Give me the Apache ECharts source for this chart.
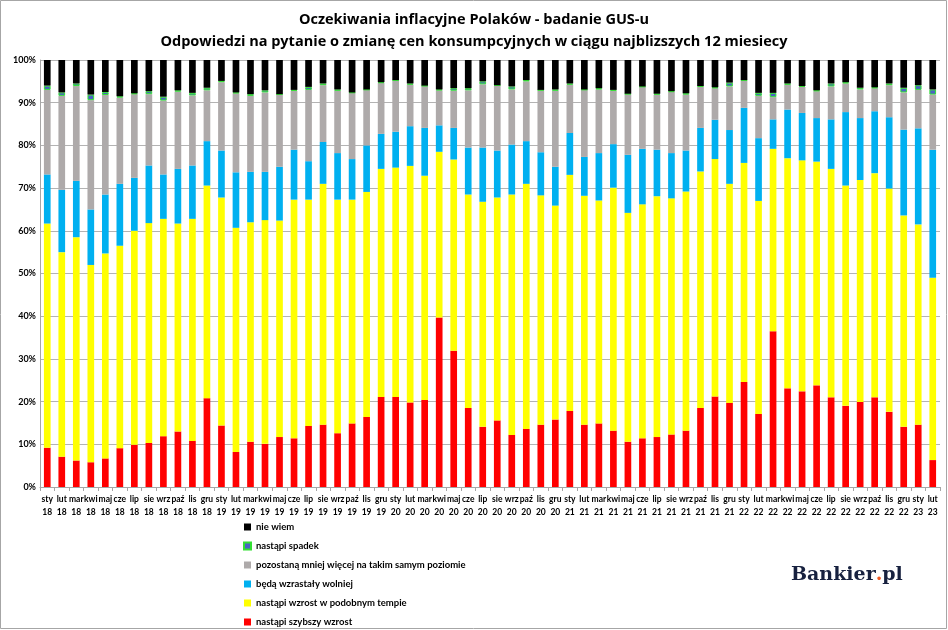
<!DOCTYPE html>
<html><head><meta charset="utf-8">
<script src="https://cdn.jsdelivr.net/npm/echarts@6/dist/echarts.min.js"></script>
<style>html,body{margin:0;padding:0;background:#fff}#c{width:948px;height:630px}</style>
</head><body><div id="c"></div>
<script>
const months = ['sty','lut','mar','kwi','maj','cze','lip','sie','wrz','paź','lis','gru'];
const categories = [];
for (const y of ['18','19','20','21','22']) for (const m of months) categories.push(m + '\n' + y);
categories.push('sty\n23', 'lut\n23');

const szybszy = [9.2,7.1,6.2,5.8,6.7,9.1,9.9,10.3,11.9,13.0,10.8,20.8,14.4,8.2,10.6,10.1,11.7,11.4,14.3,14.6,12.6,14.9,16.4,21.1,21.1,19.8,20.4,39.7,31.9,18.5,14.1,15.6,12.2,13.6,14.6,15.8,17.8,14.6,14.9,13.2,10.6,11.4,11.7,12.3,13.2,18.5,21.2,19.7,24.6,17.1,36.5,23.1,22.4,23.8,21.0,19.0,19.9,21.0,17.6,14.1,14.6,6.3];
const podobny = [52.5,47.9,52.3,46.2,48.0,47.4,50.1,51.5,50.9,48.7,52.0,49.8,53.4,52.5,51.4,52.4,50.7,55.9,53.0,56.4,54.7,52.4,52.7,53.4,53.7,55.4,52.5,38.8,44.8,50.0,52.7,52.2,56.3,57.4,53.7,50.1,55.3,53.6,52.2,56.9,53.6,54.8,56.4,55.3,56.0,55.4,55.6,51.3,51.3,49.9,42.7,53.9,54.1,52.4,53.5,51.6,52.0,52.5,52.3,49.5,46.9,42.7];
const wolniej = [11.5,14.6,13.2,13.0,13.8,14.5,12.4,13.5,10.4,12.8,12.5,10.4,11.0,13.0,11.8,11.3,12.6,11.7,9.0,9.8,10.9,9.5,10.9,8.2,8.4,9.3,11.2,6.2,7.4,11.0,12.7,11.0,11.7,10.0,10.1,9.1,9.8,9.1,11.1,10.2,13.6,13.0,10.9,10.6,9.6,10.2,9.2,12.6,12.9,14.7,6.9,11.4,11.1,10.2,11.6,17.2,14.5,14.5,16.7,20.1,22.5,30.0];
const bezZmian = [19.8,22.0,22.2,25.6,23.3,20.2,19.6,16.7,17.3,18.1,16.4,11.9,16.0,18.5,17.8,18.6,16.9,13.8,16.7,13.3,14.6,15.5,13.0,11.9,12.0,9.7,9.8,8.2,8.7,13.4,14.8,15.2,12.9,14.0,14.5,17.8,11.3,15.7,14.9,12.5,14.2,14.5,12.9,14.3,13.1,9.6,7.4,10.2,6.4,9.9,5.2,5.8,6.1,6.3,7.7,6.7,6.7,5.4,7.5,8.7,9.0,12.9];
const spadek = [1.0,0.8,0.6,1.3,0.7,0.3,0.2,0.7,0.9,0.3,0.6,0.6,0.3,0.2,0.4,0.5,0.1,0.2,0.7,0.4,0.3,0.1,0.1,0.2,0.1,0.3,0.1,0.2,0.6,0.5,0.7,0.1,0.7,0.3,0.1,0.3,0.3,0.1,0.3,0.2,0.1,0.1,0.2,0.2,0.3,0.2,0.2,0.9,0.1,0.7,1.0,0.3,0.2,0.2,0.7,0.3,0.4,0.2,0.4,1.1,1.1,1.2];
const nieWiem = [6.0,7.6,5.5,8.1,7.5,8.5,7.8,7.3,8.6,7.1,7.7,6.5,4.9,7.6,8.0,7.1,8.0,7.0,6.3,5.5,6.9,7.6,6.9,5.2,4.7,5.5,6.0,6.9,6.6,6.6,5.0,5.9,6.2,4.7,7.0,6.9,5.5,6.9,6.6,7.0,7.9,6.2,7.9,7.3,7.8,6.1,6.4,5.3,4.7,7.7,7.7,5.5,6.1,7.1,5.5,5.2,6.5,6.4,5.5,6.5,5.9,6.9];
const yTicks = [0,10,20,30,40,50,60,70,80,90,100];

const names = ['nastąpi szybszy wzrost','nastąpi wzrost w podobnym tempie','będą wzrastały wolniej','pozostaną mniej więcej na takim samym poziomie','nastąpi spadek','nie wiem'];
const datas = [szybszy, podobny, wolniej, bezZmian, spadek, nieWiem];
const styles = [
  {color:'#ff0000'},
  {color:'#ffff00'},
  {color:'#00b0f0'},
  {color:'#aeaaaa'},
  {color:'#4a62c4', borderColor:'#33e033', borderWidth:1},
  {color:'#000000'}
];
const series = names.map((n,i)=>({
  name:n, type:'bar', stack:'all', data:datas[i], barWidth:'46%',
  itemStyle:styles[i], emphasis:{disabled:true}, animation:false
}));

const chart = echarts.init(document.getElementById('c'));
chart.setOption({
  animation:false,
  backgroundColor:'#fff',
  title:[
    {text:'Oczekiwania inflacyjne Polaków - badanie GUS-u', left:'center', top:7,
     textStyle:{fontFamily:'Open Sans', fontWeight:'bold', fontSize:14.5, color:'#000'}},
    {text:'Odpowiedzi na pytanie o zmianę cen konsumpcyjnych w ciągu najblizszych 12 miesiecy', left:'center', top:29,
     textStyle:{fontFamily:'Open Sans', fontWeight:'bold', fontSize:14.5, color:'#000'}}
  ],
  legend:{
    orient:'vertical', left:243, top:521, height:115, padding:0, itemWidth:7, itemHeight:7, itemGap:7, icon:'rect',
    data:names.slice().reverse(),
    textStyle:{fontFamily:'Lato', fontWeight:'bold', fontSize:9.5, color:'#000', lineHeight:12},
    selectedMode:false
  },
  grid:{left:40, right:8, top:60, bottom:143},
  xAxis:{
    type:'category', data:categories,
    axisLine:{lineStyle:{color:'#a6a6a6'}},
    axisTick:{show:true, length:4, lineStyle:{color:'#a6a6a6'}},
    axisLabel:{interval:0, fontFamily:'Lato', fontWeight:'bold', fontSize:8.5, color:'#000', lineHeight:13, margin:6}
  },
  yAxis:{
    type:'value', min:0, max:100, interval:10,
    axisLine:{show:true, lineStyle:{color:'#a6a6a6'}},
    axisTick:{show:false},
    splitLine:{lineStyle:{color:'#b3b3b3'}},
    axisLabel:{fontFamily:'Lato', fontWeight:'bold', fontSize:9, color:'#000', margin:4,
      formatter:v=>yTicks.includes(v)? v+'%' : ''}
  },
  graphic:[
    {type:'rect', shape:{x:0.5, y:0.5, width:946, height:628}, style:{fill:'none', stroke:'#a6a6a6', lineWidth:1}, silent:true},
    {type:'text', left:791, top:566, style:{
      text:'{a|Bankier}{b|.}{a|pl}',
      rich:{a:{fontFamily:'DejaVu Serif', fontWeight:'bold', fontSize:19, fill:'#17213f'},
            b:{fontFamily:'DejaVu Serif', fontWeight:'bold', fontSize:19, fill:'#f05a22'}}
    }}
  ],
  series:series
});
</script></body></html>
